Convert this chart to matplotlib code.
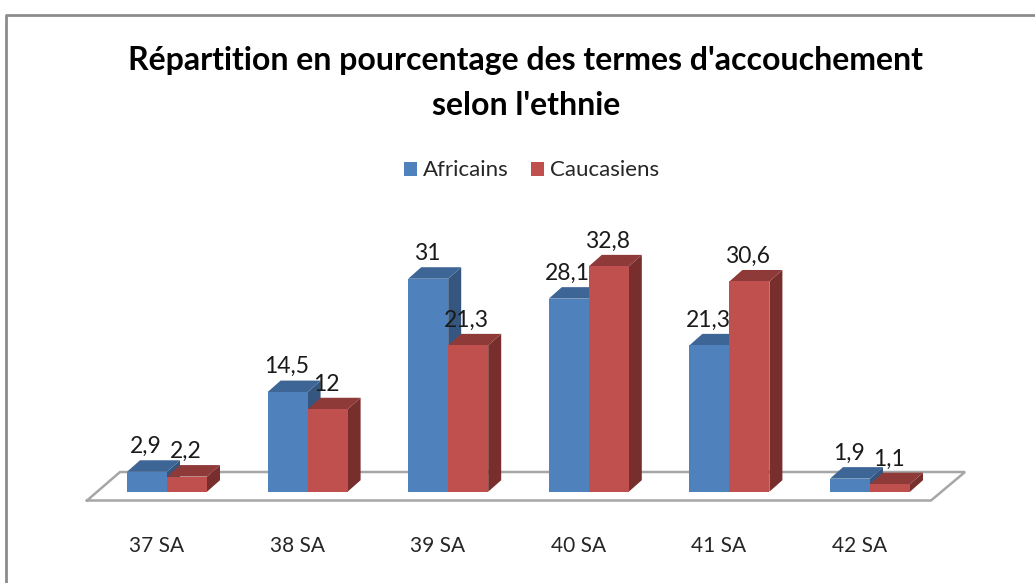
import matplotlib
matplotlib.use('Agg')
import matplotlib.pyplot as plt
from matplotlib.patches import Patch

plt.rcParams['font.family'] = ['Lato', 'DejaVu Sans']

categories = ['37 SA', '38 SA', '39 SA', '40 SA', '41 SA', '42 SA']
africains = [2.9, 14.5, 31, 28.1, 21.3, 1.9]
caucasiens = [2.2, 12, 21.3, 32.8, 30.6, 1.1]
africains_txt = ['2,9', '14,5', '31', '28,1', '21,3', '1,9']
caucasiens_txt = ['2,2', '12', '21,3', '32,8', '30,6', '1,1']

W, H = 1035, 583
x0, x_step = 167, 140.6    # pixel of first category, pixels per category
y0, y_step = 491.7, 6.87   # pixel of value 0, pixels per unit
bar_w = 40 / x_step
dx = 13 / x_step           # depth of the fake 3d
dy = 11.5 / y_step

fig = plt.figure(figsize=(W / 100, H / 100), dpi=100)
ax = fig.add_axes([0, 0, 1, 1])
ax.set_xlim(-x0 / x_step, (W - x0) / x_step)
ax.set_ylim(-(H - y0) / y_step, y0 / y_step)
ax.axis('off')


def px(x, y):
    return (x - x0) / x_step, (y0 - y) / y_step


# chart frame, only left and top show
fx, fy = zip(*[px(6, H), px(6, 14.5), px(W, 14.5)])
ax.plot(fx, fy, color='#8c8c8c', lw=2, solid_capstyle='butt')

# floor
floor = [px(87, 500.5), px(931, 500.5), px(965, 472), px(120, 472), px(87, 500.5)]
ax.plot(*zip(*floor), color='#a6a6a6', lw=1.8, solid_joinstyle='miter', zorder=1)


def bar3d(left, val, front, top, side):
    r = left + bar_w
    ax.fill([r, r + dx, r + dx, r], [0, dy, val + dy, val], color=side, lw=0, zorder=2)
    ax.fill([left, r, r + dx, left + dx], [val, val, val + dy, val + dy], color=top, lw=0, zorder=2)
    ax.bar(left, val, width=bar_w, align='edge', color=front, lw=0, zorder=2)


for i in range(len(categories)):
    bar3d(i - bar_w, africains[i], '#4f81bd', '#3d6596', '#35567f')
    bar3d(i, caucasiens[i], '#c0504d', '#8e3a38', '#772e2c')

for i in range(len(categories)):
    ax.annotate(africains_txt[i], (i - bar_w / 2, africains[i]), xytext=(-1, 13.5),
                textcoords='offset points', ha='center', va='baseline', fontsize=16.5,
                color='#1a1a1a', zorder=3)
    ax.annotate(caucasiens_txt[i], (i + bar_w / 2, caucasiens[i]), xytext=(-1, 13.5),
                textcoords='offset points', ha='center', va='baseline', fontsize=16.5,
                color='#1a1a1a', zorder=3)
    ax.text(i - 10.5 / x_step, px(0, 551.5)[1], categories[i], ha='center', va='baseline',
            fontsize=15, color='#262626')

tx, ty = px(526, 70)
ax.text(tx, ty, "Répartition en pourcentage des termes d'accouchement", ha='center',
        va='baseline', fontsize=23, fontweight='bold', color='black')
tx, ty = px(526, 115)
ax.text(tx, ty, "selon l'ethnie", ha='center', va='baseline', fontsize=23,
        fontweight='bold', color='black')

handles = [Patch(color='#4f81bd', lw=0), Patch(color='#c0504d', lw=0)]
ax.legend(handles, ['Africains', 'Caucasiens'], ncol=2, frameon=False, fontsize=16,
          loc='center', bbox_to_anchor=(531.5 / W, 1 - 170.5 / H), bbox_transform=fig.transFigure,
          handlelength=0.58, handleheight=0.58, handletextpad=0.27, columnspacing=1.03,
          labelcolor='#262626')

fig.savefig('out.png', dpi=100, facecolor='white')
